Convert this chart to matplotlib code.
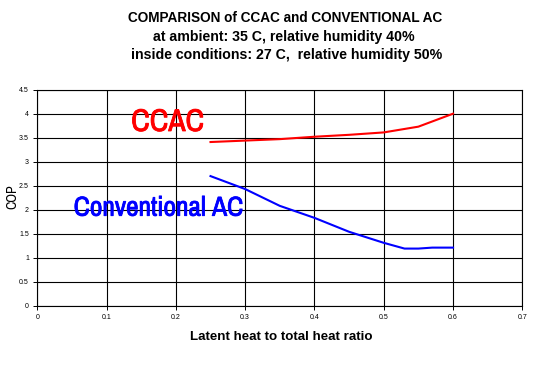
import matplotlib.pyplot as plt
import matplotlib.patheffects as pe
import numpy as np

plt.rcParams['font.family'] = ['Liberation Sans', 'DejaVu Sans']
NARROW = ['Archivo Narrow', 'Liberation Sans', 'DejaVu Sans']

# data
ratio_ccac = [0.25, 0.30, 0.35, 0.40, 0.45, 0.50, 0.55, 0.60]
cop_ccac = [3.41, 3.44, 3.47, 3.52, 3.56, 3.61, 3.73, 4.00]

ratio_conv = [0.25, 0.30, 0.35, 0.40, 0.45, 0.50, 0.53, 0.55, 0.57, 0.60]
cop_conv = [2.70, 2.43, 2.08, 1.83, 1.54, 1.31, 1.19, 1.19, 1.21, 1.21]

xticks = [0, 0.1, 0.2, 0.3, 0.4, 0.5, 0.6, 0.7]
xticklabels = ['0', '0.1', '0.2', '0.3', '0.4', '0.5', '0.6', '0.7']
yticks = [0, 0.5, 1, 1.5, 2, 2.5, 3, 3.5, 4, 4.5]
yticklabels = ['0', '0.5', '1', '1.5', '2', '2.5', '3', '3.5', '4', '4.5']

W, H = 542, 368
fig = plt.figure(figsize=(W / 100, H / 100), dpi=100)
ax = fig.add_axes([37.3 / W, 1 - 305.7 / H, (522.3 - 37.3) / W, (305.7 - 89.7) / H])

ax.plot(ratio_ccac, cop_ccac, color='#ff0000', lw=1.5, zorder=3)
ax.plot(ratio_conv, cop_conv, color='#0000ff', lw=1.5, zorder=3)

ax.set_xlim(0, 0.7)
ax.set_ylim(0, 4.5)
ax.set_xticks(xticks)
ax.set_xticklabels(xticklabels, fontsize=5)
ax.set_yticks(yticks)
ax.set_yticklabels(yticklabels, fontsize=5)
ax.tick_params(direction='out', length=3, width=0.7, pad=3)
ax.grid(True, color='black', lw=0.8)
ax.set_axisbelow(True)
for s in ax.spines.values():
    s.set_linewidth(0.8)

# labels inside the plot (narrow font, thickened a little with a stroke of the same colour)
ax.text(0.1355, 3.64, 'CCAC', color='#ff0000', fontsize=22.6, family=NARROW,
        ha='left', va='baseline',
        path_effects=[pe.withStroke(linewidth=0.6, foreground='#ff0000')])
ax.text(0.0525, 1.875, 'Conventional AC', color='#0000ff', fontsize=19.7, family=NARROW,
        ha='left', va='baseline',
        path_effects=[pe.withStroke(linewidth=0.6, foreground='#0000ff')])

# axis titles
fig.text(281 / W, 1 - 336.5 / H, 'Latent heat to total heat ratio',
         ha='center', va='center', fontsize=9.6, fontweight='bold')
fig.text(12 / W, 1 - 196.7 / H, 'COP', rotation=90, family=NARROW,
         ha='center', va='center', fontsize=10)

fig.text(285 / W, 1 - 17.5 / H, 'COMPARISON of CCAC and CONVENTIONAL AC',
         ha='center', va='center', fontsize=9.8, fontweight='bold')
fig.text(284 / W, 1 - 37.5 / H, 'at ambient: 35 C, relative humidity 40%',
         ha='center', va='center', fontsize=10.2, fontweight='bold')
fig.text(286.7 / W, 1 - 55.5 / H, 'inside conditions: 27 C,  relative humidity 50%',
         ha='center', va='center', fontsize=10.2, fontweight='bold')

fig.savefig('out.png', dpi=100)
